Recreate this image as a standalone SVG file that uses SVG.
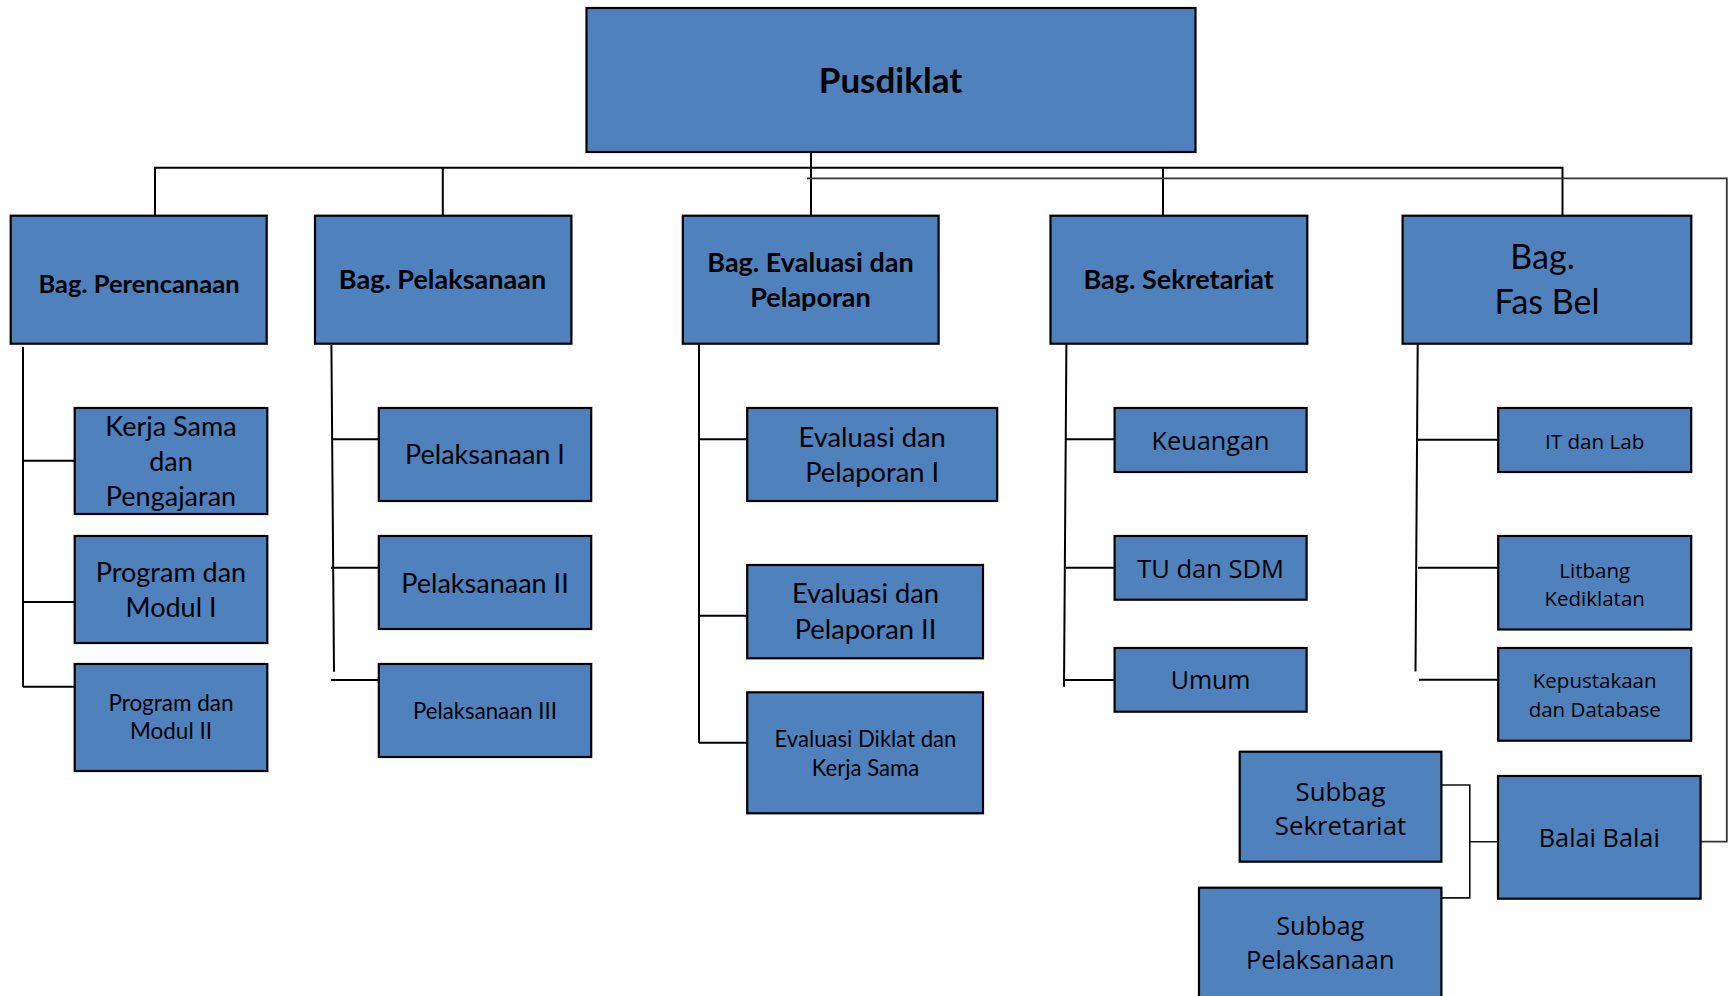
<svg xmlns="http://www.w3.org/2000/svg" width="1729" height="996" viewBox="0 0 1729 996">
<style>
.box{fill:#4F81BD;stroke:#000;stroke-width:2.2}
.c{font-family:Lato,"Liberation Sans",sans-serif;fill:#000;text-anchor:middle}
.o{font-family:"Open Sans","Liberation Sans",sans-serif;fill:#000;text-anchor:middle}
.b{font-weight:bold}
.ln{fill:none;stroke:#000;stroke-width:2}
.gr{fill:none;stroke:#333;stroke-width:1.8}
.th{fill:none;stroke:#111;stroke-width:1.6}
</style>
<rect width="1729" height="996" fill="#fff"/>
<g id="connectors">
<path class="ln" d="M155 216V167.7H1562.5V216M442.8 167.7V216M811 152V216M1163 167.7V216"/>
<path class="gr" d="M807 178.3H1726.8V841.7H1700.6"/>
<path class="ln" d="M23 347V686.7M23 460.7H74.7M23 602H74.7M23 686.7H74.7"/>
<path class="ln" d="M331.4 345L334 671.7M332 439.3H378.8M331 567.7H378.8M331 680H378.8"/>
<path class="ln" d="M699 344V742.7M699 439.3H747.2M699 615.7H747.2M699 742.7H747.2"/>
<path class="ln" d="M1066.4 344L1064 686.7M1066 439.3H1114.6M1066 567.7H1114.6M1064 680H1114.6"/>
<path class="ln" d="M1417.7 344L1415.5 671.5M1418 439.7H1498.2M1418 567.8H1498.2M1419 679.8H1498.2"/>
<path class="th" d="M1441.4 785H1469.8V897.9H1441.4M1469.8 841.7H1498"/>
</g>
<g id="pusdiklat"><rect class="box" x="586.5" y="8" width="609" height="144"/><text class="c b" x="890.5" y="93" font-size="35">Pusdiklat</text></g>
<g id="bag-perencanaan"><rect class="box" x="10.7" y="215.7" width="256" height="128"/><text class="c b" x="139" y="292.5" font-size="25.5">Bag. Perencanaan</text></g>
<g id="bag-pelaksanaan"><rect class="box" x="315" y="215.7" width="256.4" height="128"/><text class="c b" x="442.5" y="289.3" font-size="27">Bag. Pelaksanaan</text></g>
<g id="bag-evaluasi"><rect class="box" x="682.8" y="215.7" width="255.8" height="128"/><text class="c b" x="810.5" y="271.7" font-size="27">Bag. Evaluasi dan</text><text class="c b" x="810.5" y="306.7" font-size="27">Pelaporan</text></g>
<g id="bag-sekretariat"><rect class="box" x="1050.5" y="215.7" width="256.8" height="128"/><text class="c b" x="1178.7" y="289.3" font-size="27">Bag. Sekretariat</text></g>
<g id="bag-fasbel"><rect class="box" x="1402.6" y="215.7" width="288.7" height="128"/><text class="c" x="1542.5" y="269.3" font-size="34">Bag.</text><text class="c" x="1547" y="314.3" font-size="34">Fas Bel</text></g>
<g id="kerja-sama"><rect class="box" x="74.7" y="408" width="192.6" height="106"/><text class="c" x="171" y="435.7" font-size="27">Kerja Sama</text><text class="c" x="171" y="470.7" font-size="27">dan</text><text class="c" x="171" y="505.5" font-size="27">Pengajaran</text></g>
<g id="program-modul-1"><rect class="box" x="74.7" y="536" width="192.6" height="107"/><text class="c" x="171" y="581.7" font-size="27">Program dan</text><text class="c" x="171" y="616.7" font-size="27">Modul I</text></g>
<g id="program-modul-2"><rect class="box" x="74.7" y="664" width="192.6" height="107"/><text class="c" x="171" y="711" font-size="22.5">Program dan</text><text class="c" x="171" y="739.3" font-size="22.5">Modul II</text></g>
<g id="pelaksanaan-1"><rect class="box" x="378.8" y="408" width="212.4" height="93"/><text class="c" x="485" y="464.3" font-size="27">Pelaksanaan I</text></g>
<g id="pelaksanaan-2"><rect class="box" x="378.8" y="536" width="212.4" height="93"/><text class="c" x="485" y="592.7" font-size="27">Pelaksanaan II</text></g>
<g id="pelaksanaan-3"><rect class="box" x="378.8" y="664" width="212.4" height="93"/><text class="c" x="485" y="719" font-size="22.2">Pelaksanaan III</text></g>
<g id="evaluasi-1"><rect class="box" x="747.2" y="408" width="250" height="93"/><text class="c" x="872.2" y="446.7" font-size="27.3">Evaluasi dan</text><text class="c" x="872.2" y="481.7" font-size="27.3">Pelaporan I</text></g>
<g id="evaluasi-2"><rect class="box" x="747.2" y="565" width="235.8" height="93.3"/><text class="c" x="865.5" y="603.3" font-size="27.3">Evaluasi dan</text><text class="c" x="865.5" y="639" font-size="27.3">Pelaporan II</text></g>
<g id="evaluasi-diklat"><rect class="box" x="747.2" y="692.3" width="235.8" height="121"/><text class="c" x="865.5" y="746.7" font-size="22.1">Evaluasi Diklat dan</text><text class="c" x="865.5" y="775.7" font-size="22.1">Kerja Sama</text></g>
<g id="keuangan"><rect class="box" x="1114.6" y="408" width="192" height="64"/><text class="o" x="1210.6" y="450" font-size="25.3">Keuangan</text></g>
<g id="tu-sdm"><rect class="box" x="1114.6" y="536" width="192" height="63.7"/><text class="o" x="1210.6" y="577.7" font-size="25.5">TU dan SDM</text></g>
<g id="umum"><rect class="box" x="1114.6" y="648" width="192" height="63.7"/><text class="o" x="1210.6" y="689" font-size="25">Umum</text></g>
<g id="it-lab"><rect class="box" x="1498.2" y="408" width="193" height="64"/><text class="o" x="1594.7" y="448.8" font-size="20.6">IT dan Lab</text></g>
<g id="litbang"><rect class="box" x="1498.2" y="536" width="193" height="93.5"/><text class="o" x="1594.7" y="578.4" font-size="20.5">Litbang</text><text class="o" x="1594.7" y="606" font-size="20.5">Kediklatan</text></g>
<g id="kepustakaan"><rect class="box" x="1498.2" y="648" width="193" height="92.7"/><text class="o" x="1594.7" y="688.4" font-size="20.5">Kepustakaan</text><text class="o" x="1594.7" y="717" font-size="20.5">dan Database</text></g>
<g id="subbag-sekretariat"><rect class="box" x="1239.7" y="751.7" width="201.7" height="110"/><text class="o" x="1340.5" y="801" font-size="25.8">Subbag</text><text class="o" x="1340.5" y="835" font-size="25.8">Sekretariat</text></g>
<g id="subbag-pelaksanaan"><rect class="box" x="1199" y="887.7" width="242.4" height="120"/><text class="o" x="1320.2" y="934.8" font-size="25.3">Subbag</text><text class="o" x="1320.2" y="969.4" font-size="25.3">Pelaksanaan</text></g>
<g id="balai"><rect class="box" x="1498" y="776" width="202.6" height="122.7"/><text class="o" x="1599.3" y="846.8" font-size="25.3">Balai Balai</text></g>
</svg>
